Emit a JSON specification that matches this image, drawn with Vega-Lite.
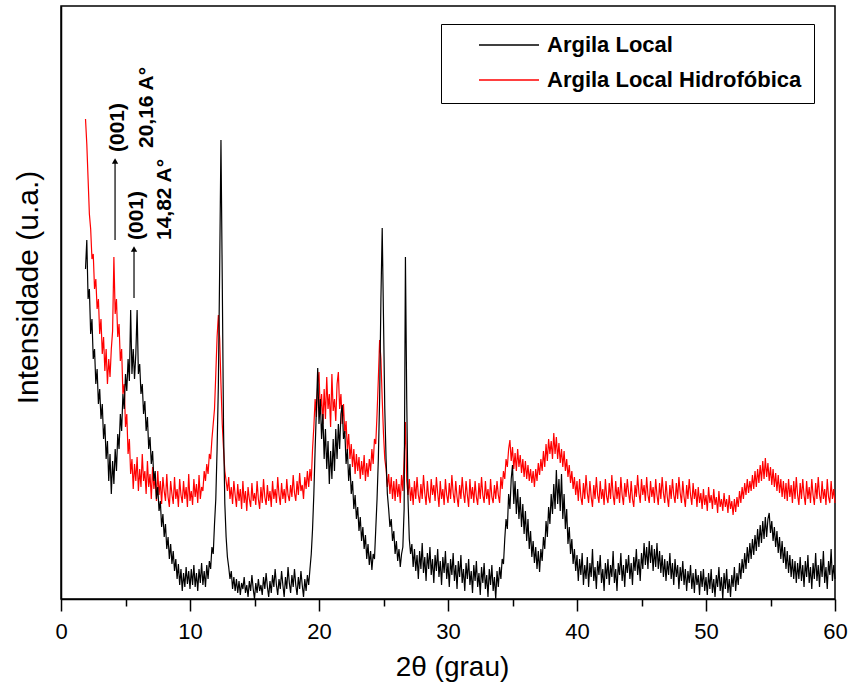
{
"$schema":"https://vega.github.io/schema/vega-lite/v6.json",
"width":774,"height":593,
"autosize":{"type":"none"},
"padding":{"left":61,"top":6,"right":16,"bottom":87},
"background":"white",
"config":{"view":{"stroke":"black","strokeWidth":1.5},"font":"Liberation Sans"},
"datasets":{
"xrd":[
{"t":1.9,"b":330,"r":480},{"t":2.0,"b":359,"r":455},{"t":2.1,"b":300,"r":420},{"t":2.2,"b":310,"r":385},{"t":2.3,"b":265,"r":370},{"t":2.4,"b":280,"r":340},{"t":2.5,"b":240,"r":345},{"t":2.6,"b":250,"r":310},{"t":2.7,"b":215,"r":320},{"t":2.8,"b":230,"r":290},{"t":2.9,"b":195,"r":300},
{"t":3.0,"b":210,"r":265},{"t":3.1,"b":180,"r":280},{"t":3.2,"b":195,"r":245},{"t":3.3,"b":160,"r":262},{"t":3.4,"b":175,"r":228},{"t":3.5,"b":140,"r":250},{"t":3.6,"b":158,"r":215},{"t":3.7,"b":118,"r":240},{"t":3.8,"b":145,"r":222},{"t":3.9,"b":105,"r":250},
{"t":4.0,"b":138,"r":268},{"t":4.1,"b":115,"r":342},{"t":4.2,"b":150,"r":285},{"t":4.3,"b":128,"r":300},{"t":4.4,"b":165,"r":262},{"t":4.5,"b":150,"r":275},{"t":4.6,"b":185,"r":238},{"t":4.7,"b":168,"r":250},{"t":4.8,"b":205,"r":205},{"t":4.9,"b":190,"r":215},
{"t":5.0,"b":225,"r":172},{"t":5.1,"b":208,"r":185},{"t":5.2,"b":240,"r":145},{"t":5.3,"b":218,"r":160},{"t":5.4,"b":289,"r":125},{"t":5.5,"b":225,"r":140},{"t":5.6,"b":250,"r":110},{"t":5.7,"b":220,"r":135},{"t":5.8,"b":245,"r":118},{"t":5.9,"b":289,"r":142},
{"t":6.0,"b":225,"r":108},{"t":6.1,"b":235,"r":130},{"t":6.2,"b":205,"r":112},{"t":6.3,"b":215,"r":145},{"t":6.4,"b":185,"r":118},{"t":6.5,"b":198,"r":128},{"t":6.6,"b":168,"r":105},{"t":6.7,"b":182,"r":138},{"t":6.8,"b":150,"r":112},{"t":6.9,"b":162,"r":125},
{"t":7.0,"b":135,"r":100},{"t":7.1,"b":148,"r":132},{"t":7.2,"b":118,"r":110},{"t":7.3,"b":128,"r":122},{"t":7.4,"b":100,"r":98},{"t":7.5,"b":112,"r":128},{"t":7.6,"b":88,"r":104},{"t":7.7,"b":98,"r":118},{"t":7.8,"b":72,"r":95},{"t":7.9,"b":85,"r":122},
{"t":8.0,"b":62,"r":108},{"t":8.1,"b":75,"r":98},{"t":8.2,"b":50,"r":125},{"t":8.3,"b":62,"r":102},{"t":8.4,"b":40,"r":92},{"t":8.5,"b":55,"r":118},{"t":8.6,"b":35,"r":105},{"t":8.7,"b":48,"r":95},{"t":8.8,"b":28,"r":122},{"t":8.9,"b":40,"r":100},
{"t":9.0,"b":20,"r":110},{"t":9.1,"b":35,"r":92},{"t":9.2,"b":14,"r":120},{"t":9.3,"b":30,"r":104},{"t":9.4,"b":8,"r":96},{"t":9.5,"b":26,"r":118},{"t":9.6,"b":12,"r":100},{"t":9.7,"b":32,"r":112},{"t":9.8,"b":15,"r":92},{"t":9.9,"b":28,"r":125},
{"t":10.0,"b":10,"r":98},{"t":10.1,"b":30,"r":108},{"t":10.2,"b":14,"r":94},{"t":10.3,"b":34,"r":120},{"t":10.4,"b":12,"r":102},{"t":10.5,"b":26,"r":115},{"t":10.6,"b":8,"r":96},{"t":10.7,"b":30,"r":124},{"t":10.8,"b":16,"r":100},{"t":10.9,"b":36,"r":112},
{"t":11.0,"b":14,"r":108},{"t":11.1,"b":28,"r":128},{"t":11.2,"b":12,"r":118},{"t":11.3,"b":34,"r":135},{"t":11.4,"b":20,"r":125},{"t":11.5,"b":38,"r":145},{"t":11.6,"b":30,"r":140},{"t":11.7,"b":52,"r":160},{"t":11.8,"b":45,"r":175},{"t":11.9,"b":75,"r":190},
{"t":12.0,"b":100,"r":225},{"t":12.1,"b":150,"r":262},{"t":12.2,"b":215,"r":284},{"t":12.3,"b":330,"r":260},{"t":12.4,"b":459,"r":215},{"t":12.5,"b":320,"r":175},{"t":12.6,"b":170,"r":150},{"t":12.7,"b":95,"r":128},{"t":12.8,"b":62,"r":118},{"t":12.9,"b":42,"r":108},
{"t":13.0,"b":32,"r":122},{"t":13.1,"b":20,"r":100},{"t":13.2,"b":28,"r":112},{"t":13.3,"b":10,"r":95},{"t":13.4,"b":22,"r":118},{"t":13.5,"b":8,"r":104},{"t":13.6,"b":20,"r":92},{"t":13.7,"b":6,"r":115},{"t":13.8,"b":18,"r":98},{"t":13.9,"b":4,"r":110},
{"t":14.0,"b":16,"r":90},{"t":14.1,"b":10,"r":118},{"t":14.2,"b":22,"r":96},{"t":14.3,"b":6,"r":108},{"t":14.4,"b":14,"r":88},{"t":14.5,"b":2,"r":112},{"t":14.6,"b":18,"r":100},{"t":14.7,"b":8,"r":92},{"t":14.8,"b":24,"r":116},{"t":14.9,"b":10,"r":98},
{"t":15.0,"b":0,"r":106},{"t":15.1,"b":16,"r":94},{"t":15.2,"b":6,"r":118},{"t":15.3,"b":20,"r":100},{"t":15.4,"b":8,"r":90},{"t":15.5,"b":14,"r":112},{"t":15.6,"b":4,"r":96},{"t":15.7,"b":22,"r":120},{"t":15.8,"b":10,"r":102},{"t":15.9,"b":26,"r":94},
{"t":16.0,"b":12,"r":114},{"t":16.1,"b":2,"r":98},{"t":16.2,"b":18,"r":108},{"t":16.3,"b":6,"r":92},{"t":16.4,"b":24,"r":118},{"t":16.5,"b":12,"r":100},{"t":16.6,"b":30,"r":110},{"t":16.7,"b":14,"r":96},{"t":16.8,"b":4,"r":122},{"t":16.9,"b":20,"r":104},
{"t":17.0,"b":10,"r":94},{"t":17.1,"b":28,"r":116},{"t":17.2,"b":14,"r":100},{"t":17.3,"b":2,"r":110},{"t":17.4,"b":22,"r":96},{"t":17.5,"b":10,"r":120},{"t":17.6,"b":32,"r":104},{"t":17.7,"b":16,"r":98},{"t":17.8,"b":6,"r":114},{"t":17.9,"b":24,"r":102},
{"t":18.0,"b":12,"r":124},{"t":18.1,"b":30,"r":106},{"t":18.2,"b":14,"r":98},{"t":18.3,"b":4,"r":118},{"t":18.4,"b":22,"r":104},{"t":18.5,"b":10,"r":126},{"t":18.6,"b":28,"r":108},{"t":18.7,"b":14,"r":114},{"t":18.8,"b":2,"r":100},{"t":18.9,"b":20,"r":122},
{"t":19.0,"b":8,"r":110},{"t":19.1,"b":24,"r":128},{"t":19.2,"b":14,"r":112},{"t":19.3,"b":30,"r":130},{"t":19.4,"b":45,"r":118},{"t":19.5,"b":70,"r":150},{"t":19.6,"b":105,"r":172},{"t":19.7,"b":150,"r":200},{"t":19.8,"b":190,"r":182},{"t":19.9,"b":231,"r":215},
{"t":20.0,"b":175,"r":227},{"t":20.1,"b":200,"r":185},{"t":20.2,"b":160,"r":205},{"t":20.3,"b":185,"r":175},{"t":20.4,"b":140,"r":210},{"t":20.5,"b":170,"r":180},{"t":20.6,"b":130,"r":222},{"t":20.7,"b":158,"r":190},{"t":20.8,"b":115,"r":205},{"t":20.9,"b":148,"r":172},
{"t":21.0,"b":120,"r":225},{"t":21.1,"b":160,"r":188},{"t":21.2,"b":128,"r":200},{"t":21.3,"b":170,"r":178},{"t":21.4,"b":140,"r":215},{"t":21.5,"b":175,"r":227},{"t":21.6,"b":150,"r":190},{"t":21.7,"b":185,"r":205},{"t":21.8,"b":194,"r":175},{"t":21.9,"b":160,"r":195},
{"t":22.0,"b":168,"r":165},{"t":22.1,"b":135,"r":178},{"t":22.2,"b":150,"r":148},{"t":22.3,"b":118,"r":165},{"t":22.4,"b":135,"r":140},{"t":22.5,"b":105,"r":155},{"t":22.6,"b":118,"r":132},{"t":22.7,"b":90,"r":150},{"t":22.8,"b":104,"r":125},{"t":22.9,"b":80,"r":145},
{"t":23.0,"b":92,"r":128},{"t":23.1,"b":68,"r":142},{"t":23.2,"b":82,"r":120},{"t":23.3,"b":58,"r":138},{"t":23.4,"b":72,"r":124},{"t":23.5,"b":50,"r":144},{"t":23.6,"b":64,"r":118},{"t":23.7,"b":40,"r":136},{"t":23.8,"b":55,"r":122},{"t":23.9,"b":34,"r":140},
{"t":24.0,"b":48,"r":128},{"t":24.1,"b":29,"r":150},{"t":24.2,"b":45,"r":135},{"t":24.3,"b":40,"r":160},{"t":24.4,"b":70,"r":155},{"t":24.5,"b":100,"r":185},{"t":24.6,"b":140,"r":220},{"t":24.7,"b":200,"r":259},{"t":24.8,"b":300,"r":240},{"t":24.9,"b":371,"r":200},
{"t":25.0,"b":280,"r":165},{"t":25.1,"b":190,"r":140},{"t":25.2,"b":140,"r":130},{"t":25.3,"b":105,"r":112},{"t":25.4,"b":90,"r":125},{"t":25.5,"b":72,"r":105},{"t":25.6,"b":80,"r":122},{"t":25.7,"b":58,"r":100},{"t":25.8,"b":68,"r":118},{"t":25.9,"b":45,"r":98},
{"t":26.0,"b":58,"r":120},{"t":26.1,"b":38,"r":102},{"t":26.2,"b":50,"r":115},{"t":26.3,"b":32,"r":96},{"t":26.4,"b":45,"r":124},{"t":26.5,"b":52,"r":108},{"t":26.6,"b":90,"r":140},{"t":26.7,"b":342,"r":177},{"t":26.8,"b":200,"r":118},{"t":26.9,"b":100,"r":104},
{"t":27.0,"b":60,"r":120},{"t":27.1,"b":45,"r":98},{"t":27.2,"b":55,"r":112},{"t":27.3,"b":32,"r":94},{"t":27.4,"b":50,"r":118},{"t":27.5,"b":28,"r":100},{"t":27.6,"b":44,"r":122},{"t":27.7,"b":20,"r":104},{"t":27.8,"b":48,"r":96},{"t":27.9,"b":30,"r":115},
{"t":28.0,"b":56,"r":100},{"t":28.1,"b":26,"r":124},{"t":28.2,"b":42,"r":106},{"t":28.3,"b":18,"r":94},{"t":28.4,"b":46,"r":118},{"t":28.5,"b":30,"r":102},{"t":28.6,"b":52,"r":96},{"t":28.7,"b":24,"r":120},{"t":28.8,"b":40,"r":104},{"t":28.9,"b":16,"r":114},
{"t":29.0,"b":44,"r":98},{"t":29.1,"b":28,"r":122},{"t":29.2,"b":50,"r":106},{"t":29.3,"b":22,"r":92},{"t":29.4,"b":38,"r":118},{"t":29.5,"b":14,"r":100},{"t":29.6,"b":42,"r":110},{"t":29.7,"b":26,"r":94},{"t":29.8,"b":48,"r":120},{"t":29.9,"b":20,"r":104},
{"t":30.0,"b":36,"r":96},{"t":30.1,"b":12,"r":116},{"t":30.2,"b":40,"r":100},{"t":30.3,"b":24,"r":124},{"t":30.4,"b":46,"r":106},{"t":30.5,"b":18,"r":96},{"t":30.6,"b":34,"r":118},{"t":30.7,"b":10,"r":102},{"t":30.8,"b":38,"r":92},{"t":30.9,"b":22,"r":114},
{"t":31.0,"b":44,"r":100},{"t":31.1,"b":16,"r":122},{"t":31.2,"b":30,"r":106},{"t":31.3,"b":8,"r":96},{"t":31.4,"b":36,"r":118},{"t":31.5,"b":20,"r":104},{"t":31.6,"b":40,"r":92},{"t":31.7,"b":14,"r":120},{"t":31.8,"b":28,"r":100},{"t":31.9,"b":6,"r":112},
{"t":32.0,"b":34,"r":96},{"t":32.1,"b":18,"r":118},{"t":32.2,"b":38,"r":102},{"t":32.3,"b":12,"r":94},{"t":32.4,"b":26,"r":116},{"t":32.5,"b":4,"r":100},{"t":32.6,"b":32,"r":122},{"t":32.7,"b":16,"r":104},{"t":32.8,"b":36,"r":96},{"t":32.9,"b":10,"r":118},
{"t":33.0,"b":24,"r":100},{"t":33.1,"b":2,"r":110},{"t":33.2,"b":30,"r":94},{"t":33.3,"b":14,"r":120},{"t":33.4,"b":34,"r":102},{"t":33.5,"b":8,"r":96},{"t":33.6,"b":22,"r":114},{"t":33.7,"b":0,"r":100},{"t":33.8,"b":28,"r":118},{"t":33.9,"b":12,"r":104},
{"t":34.0,"b":32,"r":96},{"t":34.1,"b":20,"r":122},{"t":34.2,"b":40,"r":110},{"t":34.3,"b":35,"r":128},{"t":34.4,"b":60,"r":120},{"t":34.5,"b":80,"r":140},{"t":34.6,"b":70,"r":132},{"t":34.7,"b":105,"r":150},{"t":34.8,"b":90,"r":159},{"t":34.9,"b":120,"r":138},
{"t":35.0,"b":134,"r":152},{"t":35.1,"b":95,"r":130},{"t":35.2,"b":118,"r":146},{"t":35.3,"b":85,"r":128},{"t":35.4,"b":110,"r":150},{"t":35.5,"b":80,"r":132},{"t":35.6,"b":102,"r":144},{"t":35.7,"b":72,"r":126},{"t":35.8,"b":95,"r":140},{"t":35.9,"b":65,"r":122},
{"t":36.0,"b":88,"r":138},{"t":36.1,"b":58,"r":120},{"t":36.2,"b":80,"r":134},{"t":36.3,"b":50,"r":118},{"t":36.4,"b":68,"r":130},{"t":36.5,"b":42,"r":116},{"t":36.6,"b":58,"r":128},{"t":36.7,"b":36,"r":112},{"t":36.8,"b":52,"r":130},{"t":36.9,"b":30,"r":118},
{"t":37.0,"b":48,"r":136},{"t":37.1,"b":27,"r":124},{"t":37.2,"b":50,"r":140},{"t":37.3,"b":38,"r":128},{"t":37.4,"b":62,"r":148},{"t":37.5,"b":50,"r":132},{"t":37.6,"b":78,"r":155},{"t":37.7,"b":62,"r":138},{"t":37.8,"b":92,"r":160},{"t":37.9,"b":75,"r":145},
{"t":38.0,"b":105,"r":158},{"t":38.1,"b":85,"r":140},{"t":38.2,"b":115,"r":166},{"t":38.3,"b":90,"r":145},{"t":38.4,"b":129,"r":162},{"t":38.5,"b":95,"r":140},{"t":38.6,"b":120,"r":156},{"t":38.7,"b":88,"r":136},{"t":38.8,"b":125,"r":150},{"t":38.9,"b":80,"r":132},
{"t":39.0,"b":105,"r":148},{"t":39.1,"b":70,"r":128},{"t":39.2,"b":90,"r":140},{"t":39.3,"b":55,"r":122},{"t":39.4,"b":72,"r":134},{"t":39.5,"b":45,"r":116},{"t":39.6,"b":60,"r":128},{"t":39.7,"b":35,"r":110},{"t":39.8,"b":50,"r":122},{"t":39.9,"b":28,"r":104},
{"t":40.0,"b":44,"r":118},{"t":40.1,"b":18,"r":98},{"t":40.2,"b":40,"r":120},{"t":40.3,"b":24,"r":102},{"t":40.4,"b":46,"r":94},{"t":40.5,"b":14,"r":116},{"t":40.6,"b":34,"r":100},{"t":40.7,"b":20,"r":124},{"t":40.8,"b":42,"r":106},{"t":40.9,"b":12,"r":96},
{"t":41.0,"b":36,"r":118},{"t":41.1,"b":22,"r":102},{"t":41.2,"b":50,"r":92},{"t":41.3,"b":18,"r":114},{"t":41.4,"b":32,"r":100},{"t":41.5,"b":10,"r":122},{"t":41.6,"b":38,"r":104},{"t":41.7,"b":24,"r":96},{"t":41.8,"b":44,"r":118},{"t":41.9,"b":16,"r":100},
{"t":42.0,"b":30,"r":110},{"t":42.1,"b":8,"r":94},{"t":42.2,"b":36,"r":120},{"t":42.3,"b":20,"r":102},{"t":42.4,"b":40,"r":96},{"t":42.5,"b":14,"r":116},{"t":42.6,"b":34,"r":100},{"t":42.7,"b":22,"r":124},{"t":42.8,"b":48,"r":104},{"t":42.9,"b":16,"r":94},
{"t":43.0,"b":30,"r":118},{"t":43.1,"b":8,"r":100},{"t":43.2,"b":36,"r":112},{"t":43.3,"b":24,"r":96},{"t":43.4,"b":46,"r":122},{"t":43.5,"b":18,"r":104},{"t":43.6,"b":34,"r":94},{"t":43.7,"b":12,"r":116},{"t":43.8,"b":40,"r":102},{"t":43.9,"b":26,"r":120},
{"t":44.0,"b":44,"r":106},{"t":44.1,"b":20,"r":96},{"t":44.2,"b":36,"r":118},{"t":44.3,"b":14,"r":100},{"t":44.4,"b":42,"r":92},{"t":44.5,"b":28,"r":114},{"t":44.6,"b":50,"r":102},{"t":44.7,"b":24,"r":124},{"t":44.8,"b":40,"r":106},{"t":44.9,"b":18,"r":96},
{"t":45.0,"b":46,"r":120},{"t":45.1,"b":30,"r":104},{"t":45.2,"b":56,"r":114},{"t":45.3,"b":34,"r":98},{"t":45.4,"b":52,"r":122},{"t":45.5,"b":30,"r":104},{"t":45.6,"b":58,"r":96},{"t":45.7,"b":36,"r":118},{"t":45.8,"b":54,"r":102},{"t":45.9,"b":28,"r":112},
{"t":46.0,"b":50,"r":96},{"t":46.1,"b":32,"r":120},{"t":46.2,"b":56,"r":104},{"t":46.3,"b":30,"r":94},{"t":46.4,"b":48,"r":116},{"t":46.5,"b":26,"r":100},{"t":46.6,"b":44,"r":122},{"t":46.7,"b":22,"r":106},{"t":46.8,"b":40,"r":96},{"t":46.9,"b":18,"r":118},
{"t":47.0,"b":38,"r":102},{"t":47.1,"b":24,"r":92},{"t":47.2,"b":46,"r":114},{"t":47.3,"b":20,"r":100},{"t":47.4,"b":36,"r":120},{"t":47.5,"b":14,"r":104},{"t":47.6,"b":40,"r":96},{"t":47.7,"b":22,"r":116},{"t":47.8,"b":34,"r":100},{"t":47.9,"b":10,"r":122},
{"t":48.0,"b":32,"r":106},{"t":48.1,"b":18,"r":96},{"t":48.2,"b":38,"r":118},{"t":48.3,"b":14,"r":102},{"t":48.4,"b":30,"r":92},{"t":48.5,"b":8,"r":114},{"t":48.6,"b":28,"r":100},{"t":48.7,"b":16,"r":120},{"t":48.8,"b":34,"r":104},{"t":48.9,"b":10,"r":94},
{"t":49.0,"b":26,"r":116},{"t":49.1,"b":6,"r":100},{"t":49.2,"b":30,"r":110},{"t":49.3,"b":14,"r":92},{"t":49.4,"b":24,"r":112},{"t":49.5,"b":4,"r":96},{"t":49.6,"b":28,"r":106},{"t":49.7,"b":12,"r":90},{"t":49.8,"b":30,"r":110},{"t":49.9,"b":8,"r":94},
{"t":50.0,"b":22,"r":104},{"t":50.1,"b":4,"r":88},{"t":50.2,"b":26,"r":112},{"t":50.3,"b":10,"r":96},{"t":50.4,"b":30,"r":104},{"t":50.5,"b":6,"r":90},{"t":50.6,"b":20,"r":110},{"t":50.7,"b":2,"r":94},{"t":50.8,"b":24,"r":102},{"t":50.9,"b":12,"r":86},
{"t":51.0,"b":32,"r":108},{"t":51.1,"b":8,"r":92},{"t":51.2,"b":22,"r":100},{"t":51.3,"b":0,"r":88},{"t":51.4,"b":26,"r":106},{"t":51.5,"b":10,"r":92},{"t":51.6,"b":30,"r":100},{"t":51.7,"b":6,"r":86},{"t":51.8,"b":20,"r":104},{"t":51.9,"b":2,"r":90},
{"t":52.0,"b":24,"r":98},{"t":52.1,"b":12,"r":84},{"t":52.2,"b":32,"r":100},{"t":52.3,"b":8,"r":87},{"t":52.4,"b":26,"r":102},{"t":52.5,"b":14,"r":92},{"t":52.6,"b":36,"r":108},{"t":52.7,"b":20,"r":96},{"t":52.8,"b":40,"r":112},{"t":52.9,"b":26,"r":100},
{"t":53.0,"b":46,"r":116},{"t":53.1,"b":30,"r":104},{"t":53.2,"b":52,"r":120},{"t":53.3,"b":36,"r":106},{"t":53.4,"b":56,"r":118},{"t":53.5,"b":40,"r":108},{"t":53.6,"b":60,"r":124},{"t":53.7,"b":44,"r":110},{"t":53.8,"b":64,"r":128},{"t":53.9,"b":48,"r":112},
{"t":54.0,"b":70,"r":130},{"t":54.1,"b":52,"r":116},{"t":54.2,"b":74,"r":134},{"t":54.3,"b":56,"r":118},{"t":54.4,"b":78,"r":138},{"t":54.5,"b":60,"r":120},{"t":54.6,"b":82,"r":141},{"t":54.7,"b":62,"r":122},{"t":54.8,"b":80,"r":136},{"t":54.9,"b":86,"r":118},
{"t":55.0,"b":66,"r":132},{"t":55.1,"b":78,"r":114},{"t":55.2,"b":58,"r":130},{"t":55.3,"b":72,"r":112},{"t":55.4,"b":52,"r":126},{"t":55.5,"b":68,"r":108},{"t":55.6,"b":46,"r":124},{"t":55.7,"b":62,"r":106},{"t":55.8,"b":40,"r":120},{"t":55.9,"b":58,"r":102},
{"t":56.0,"b":36,"r":118},{"t":56.1,"b":52,"r":100},{"t":56.2,"b":30,"r":116},{"t":56.3,"b":48,"r":98},{"t":56.4,"b":26,"r":120},{"t":56.5,"b":44,"r":102},{"t":56.6,"b":22,"r":114},{"t":56.7,"b":40,"r":96},{"t":56.8,"b":20,"r":118},{"t":56.9,"b":38,"r":100},
{"t":57.0,"b":16,"r":122},{"t":57.1,"b":36,"r":104},{"t":57.2,"b":20,"r":94},{"t":57.3,"b":42,"r":116},{"t":57.4,"b":18,"r":100},{"t":57.5,"b":34,"r":120},{"t":57.6,"b":12,"r":104},{"t":57.7,"b":38,"r":94},{"t":57.8,"b":22,"r":118},{"t":57.9,"b":44,"r":100},
{"t":58.0,"b":16,"r":112},{"t":58.1,"b":32,"r":96},{"t":58.2,"b":10,"r":120},{"t":58.3,"b":36,"r":104},{"t":58.4,"b":20,"r":94},{"t":58.5,"b":46,"r":116},{"t":58.6,"b":18,"r":100},{"t":58.7,"b":34,"r":122},{"t":58.8,"b":12,"r":104},{"t":58.9,"b":40,"r":96},
{"t":59.0,"b":22,"r":118},{"t":59.1,"b":48,"r":100},{"t":59.2,"b":16,"r":110},{"t":59.3,"b":32,"r":94},{"t":59.4,"b":10,"r":120},{"t":59.5,"b":38,"r":102},{"t":59.6,"b":24,"r":96},{"t":59.7,"b":50,"r":118},{"t":59.8,"b":18,"r":100},{"t":59.9,"b":34,"r":110},
{"t":60.0,"b":20,"r":96}
],
"notes":[
{"t":4.42,"v":447,"txt":"(001)"},
{"t":6.67,"v":451,"txt":"20,16 A°"},
{"t":5.89,"v":359,"txt":"(001)"},
{"t":8.06,"v":359,"txt":"14,82 A°"}
],
"arrows":[
{"t":4.19,"v":359,"v2":437,"h":438},
{"t":5.66,"v":301,"v2":349,"h":350}
]
},
"layer":[
{"data":{"name":"xrd"},
 "mark":{"type":"line","strokeWidth":1.2},
 "encoding":{
  "x":{"field":"t","type":"quantitative","scale":{"domain":[0,60],"nice":false,"zero":false},
   "axis":{"title":"2θ (grau)","values":[0,5,10,15,20,25,30,35,40,45,50,55,60],
    "labelExpr":"datum.value % 10 === 0 ? datum.label : ''","labelFlush":false,"labelOverlap":false,
    "tickSize":{"condition":{"test":"datum.value % 10 === 0","value":12},"value":7},
    "tickColor":"black","tickWidth":1.5,"domainColor":"black","domainWidth":1.5,"grid":false,
    "labelFontSize":22,"labelColor":"black","labelPadding":10,"labelFont":"Liberation Sans",
    "titleFontSize":28,"titleFontWeight":"normal","titleColor":"black","titleFont":"Liberation Sans",
    "titleX":391,"titleY":76,"titleBaseline":"alphabetic"}},
  "y":{"field":"r","type":"quantitative","scale":{"domain":[0,593],"nice":false,"zero":false},
   "axis":{"title":"Intensidade (u.a.)","labels":false,"ticks":false,"grid":false,"domainColor":"black","domainWidth":1.5,
    "titleFontSize":30,"titleFontWeight":"normal","titleColor":"black","titleFont":"Liberation Sans",
    "titleX":-18,"titleY":281,"titleBaseline":"bottom"}},
  "color":{"datum":"Argila Local Hidrofóbica","type":"nominal",
   "scale":{"domain":["Argila Local","Argila Local Hidrofóbica"],"range":["#000000","#ff0000"]},
   "legend":{"orient":"none","legendX":380,"legendY":18,"title":null,"symbolType":"stroke","symbolSize":3600,
    "symbolStrokeWidth":1.5,"clipHeight":18,"rowPadding":13,"padding":12,"strokeColor":"black","fillColor":"white",
    "symbolOffset":25,"labelOffset":7,"labelFontSize":22,"labelFontWeight":"bold","labelFont":"Liberation Sans",
    "labelColor":"black","labelLimit":500}}
 }},
{"data":{"name":"xrd"},
 "mark":{"type":"line","strokeWidth":1.2},
 "encoding":{
  "x":{"field":"t","type":"quantitative"},
  "y":{"field":"b","type":"quantitative"},
  "color":{"datum":"Argila Local","type":"nominal"}
 }},
{"data":{"name":"arrows"},
 "mark":{"type":"rule","color":"black","strokeWidth":1.2},
 "encoding":{
  "x":{"field":"t","type":"quantitative"},
  "y":{"field":"v","type":"quantitative"},
  "y2":{"field":"v2"}
 }},
{"data":{"name":"arrows"},
 "mark":{"type":"point","shape":"triangle-up","filled":true,"color":"black","size":40,"opacity":1},
 "encoding":{
  "x":{"field":"t","type":"quantitative"},
  "y":{"field":"h","type":"quantitative"}
 }},
{"data":{"name":"notes"},
 "mark":{"type":"text","angle":270,"align":"left","baseline":"middle","fontSize":21,"fontWeight":"bold","font":"Liberation Sans","color":"black"},
 "encoding":{
  "x":{"field":"t","type":"quantitative"},
  "y":{"field":"v","type":"quantitative"},
  "text":{"field":"txt"}
 }}
]
}
